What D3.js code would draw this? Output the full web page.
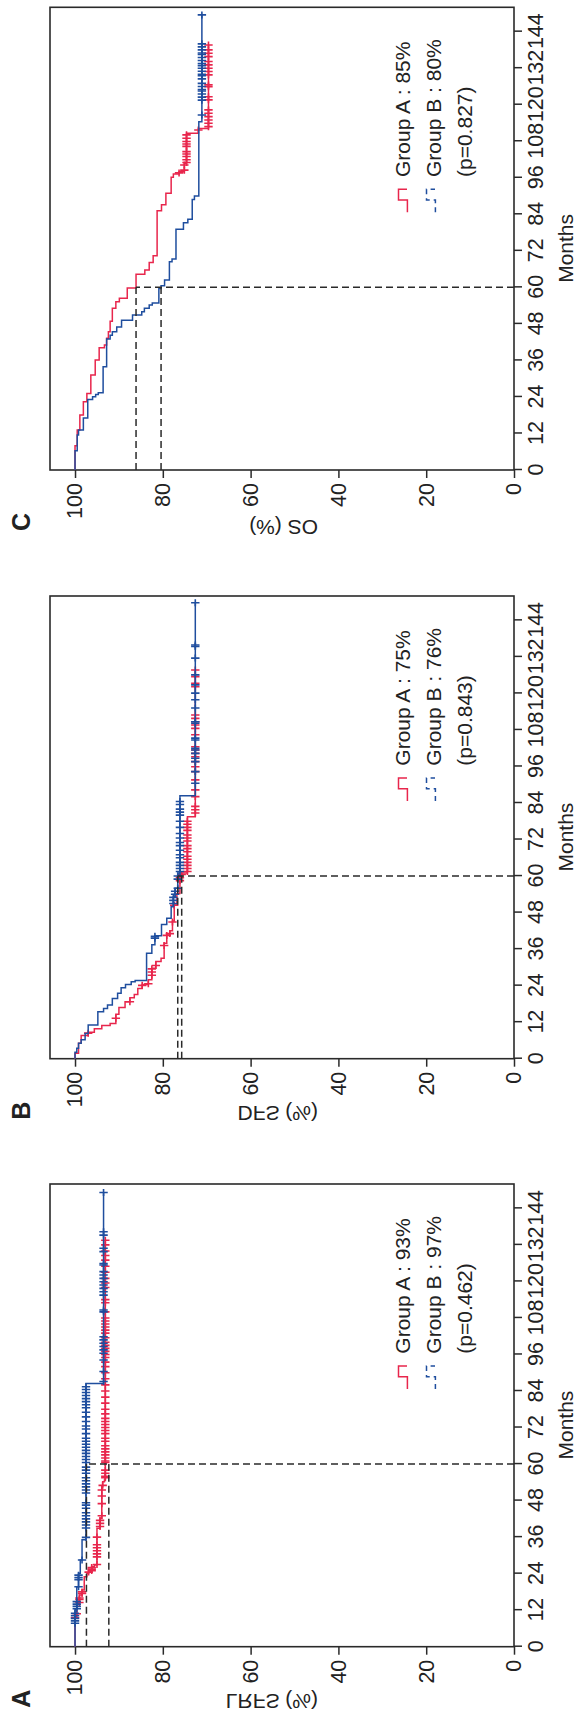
<!DOCTYPE html>
<html>
<head>
<meta charset="utf-8">
<script src="https://cdn.jsdelivr.net/npm/d3@7"></script>
<style>
  body { margin: 0; background: #fff; }
  svg text { font-family: "Liberation Sans", Arial, sans-serif; fill: #222; }
</style>
</head>
<body>
<div class="chart"></div>
<script>
// ---- data ----
var monthTicks = [0, 12, 24, 36, 48, 60, 72, 84, 96, 108, 120, 132, 144];
var survTicks = [0, 20, 40, 60, 80, 100];
var panelLetters = ['C', 'B', 'A'];
var yTitles = ['OS (%)', 'DFS (%)', 'LRFS (%)'];
var legendA = ['Group A : 85%', 'Group A : 75%', 'Group A : 93%'];
var legendB = ['Group B : 80%', 'Group B : 76%', 'Group B : 97%'];
var pValues = ['(p=0.827)', '(p=0.843)', '(p=0.462)'];

// [month, survival after the drop]
var osRedSteps = [[8.0,99.5],[13.1,98.9],[18.1,98.1],[22.4,97.3],[25.1,96.4],[31.2,95.4],[36.1,94.5],[40.2,93.3],[41.1,92.8],[43.3,92.4],[45.4,92.0],[48.9,91.5],[53.1,90.7],[55.3,89.9],[56.4,88.1],[59.8,86.1],[64.3,84.1],[65.7,83.1],[68.2,82.2],[70.4,81.3],[85.2,80.3],[87.1,79.3],[90.9,78.1],[96.2,77.6],[97.2,76.3],[98.0,75.1],[100.8,74.6],[110.6,71.9],[112.2,69.6]];
var osBlueSteps = [[6.3,99.5],[11.5,99.2],[13.1,98.1],[17.1,97.1],[23.2,96.0],[24.1,95.3],[24.8,94.7],[25.4,93.6],[33.9,92.8],[43.0,92.0],[44.3,91.5],[45.4,90.5],[47.0,89.4],[49.2,86.9],[50.9,84.8],[52.0,84.2],[53.1,83.1],[54.2,82.4],[54.9,80.9],[59.6,80.4],[60.5,79.6],[62.4,78.5],[68.4,77.9],[69.3,77.0],[79.1,75.3],[81.2,74.3],[82.4,73.3],[88.9,72.8],[90.0,71.8],[114.4,71.1]];
var osRedCensor = [97.6,98.5,100.2,101.0,101.9,103.0,103.8,104.6,106.3,107.1,107.9,109.0,110.1,111.7,112.8,113.9,115.0,116.1,117.2,118.3,121.6,122.6,125.9,126.5,129.8,130.9,132.0,133.1,134.2,135.8,136.9,138.0,139.6];
var osBlueCensor = [116.6,121.5,122.5,123.5,124.5,125.0,126.0,127.0,128.5,129.5,130.0,131.0,132.0,132.8,133.5,134.5,135.5,136.5,137.0,138.0,139.0,140.0,149.5];

var dfsRedSteps = [[1.8,99.2],[5.1,98.6],[7.6,97.0],[8.7,95.6],[9.8,93.9],[10.9,92.0],[11.6,90.7],[14.6,90.0],[16.8,88.6],[18.7,87.5],[20.0,86.5],[21.1,85.7],[23.1,84.7],[24.4,83.3],[25.9,82.5],[29.7,81.6],[31.9,80.4],[33.0,79.7],[37.9,79.1],[40.6,78.4],[42.0,77.8],[45.2,77.4],[50.5,76.8],[54.3,76.1],[59.8,75.7],[61.0,74.4],[79.5,72.6]];
var dfsBlueSteps = [[2.1,99.6],[3.4,99.2],[5.1,98.6],[6.2,97.7],[8.3,97.0],[11.1,94.8],[15.4,93.5],[16.5,92.6],[17.6,91.5],[19.8,90.3],[21.5,89.5],[23.3,88.5],[24.4,87.2],[25.3,86.3],[25.7,83.7],[34.6,82.5],[37.4,81.8],[40.4,80.3],[44.1,79.1],[46.1,78.1],[49.9,77.6],[53.2,77.2],[56.0,76.6],[61.0,76.1],[86.4,72.6]];
var dfsRedCensor = [8.4,13.3,18.7,24.1,24.6,27.4,28.5,29.5,30.6,37.2,40.5,41.1,44.9,50.4,58.5,59.5,60.5,61.5,62.5,63.5,64.5,65.5,66.5,68.0,69.0,70.0,71.5,72.5,73.5,75.0,76.0,77.0,78.0,80.7,81.8,82.9,86.1,88.3,91.6,94.3,95.9,97.6,99.2,100.3,101.4,102.5,106.4,108.5,109.6,110.7,111.8,112.9,122.2,123.3,125.5,127.7];
var dfsBlueCensor = [39.6,40.2,51.0,52.0,53.0,54.0,55.0,56.0,59.0,60.0,61.5,62.5,63.5,64.5,66.0,67.0,68.5,70.0,71.0,72.5,74.0,76.0,78.0,80.0,81.0,82.0,83.5,84.5,90.5,94.3,97.6,98.7,100.3,101.4,102.0,104.7,105.3,110.2,110.7,115.2,117.9,120.1,122.8,126.1,131.6,135.4,135.9,149.8];

var lrfsRedSteps = [[10.4,99.6],[14.2,99.0],[17.0,98.4],[18.6,97.9],[23.0,97.3],[24.1,96.9],[24.6,96.2],[26.3,95.6],[26.8,95.0],[38.9,94.3],[42.2,93.9],[52.6,93.7],[54.2,93.3],[54.8,93.1]];
var lrfsBlueSteps = [[12.1,99.6],[19.7,99.2],[24.1,98.8],[28.5,98.4],[35.1,97.5],[86.5,93.5]];
var lrfsRedCensor = [9.5,10.8,14.5,15.5,16.0,17.5,18.0,24.5,25.0,25.5,26.0,27.0,29.5,30.5,31.5,32.5,33.5,36.0,39.5,40.5,41.5,43.0,47.0,49.5,51.5,53.0,55.5,56.0,57.0,58.0,60.5,61.0,62.0,63.0,64.0,65.0,66.0,67.5,68.5,70.0,71.0,72.0,73.0,74.0,75.0,76.5,78.0,80.0,82.0,84.0,86.0,88.0,90.0,92.0,93.5,95.0,96.0,97.0,98.0,99.0,100.0,101.5,103.0,104.0,105.0,106.0,107.0,108.0,110.0,113.0,114.0,118.0,119.5,121.0,123.0,125.0,127.0,128.5,130.0,132.0,133.5];
var lrfsBlueCensor = [7.7,8.5,9.3,10.2,11.0,12.5,13.3,14.0,14.8,19.7,22.0,22.7,23.5,28.5,35.9,39.0,40.0,41.0,42.0,43.0,44.0,45.5,46.5,47.3,50.5,51.5,52.5,53.5,54.5,55.5,57.0,58.0,59.0,60.5,61.5,62.5,63.5,64.5,65.5,66.5,67.5,68.5,70.0,71.5,72.5,74.0,75.5,77.0,78.5,79.5,80.5,81.5,82.5,83.5,84.5,85.4,87.1,90.4,94.2,96.4,97.5,98.6,99.7,100.8,101.8,110.0,110.6,115.5,116.6,117.7,118.8,119.9,121.0,122.1,123.2,125.4,125.9,129.8,130.9,135.2,136.3,149.2];

// survival read at the 60-month guide lines [group A, group B]
var ref60 = [[86.1, 80.4], [75.7, 76.6], [92.3, 97.4]];

var panels = [
  { red: osRedSteps, blue: osBlueSteps, redC: osRedCensor, blueC: osBlueCensor },
  { red: dfsRedSteps, blue: dfsBlueSteps, redC: dfsRedCensor, blueC: dfsBlueCensor },
  { red: lrfsRedSteps, blue: lrfsBlueSteps, redC: lrfsRedCensor, blueC: lrfsBlueCensor }
];

// ---- layout ----
var RED = '#e8264c', BLUE = '#1f4e9e', INK = '#2a2a2a';
var left = 50;                        // screen x of the plot box
var bottoms = [470, 1058.7, 1646.7];  // screen y of month 0 for each panel
var W = 462.7;                        // months run upward
var H = 464;                          // survival runs left -> right

var x = d3.scaleLinear().domain([0, 152]).range([0, W]);
var y = d3.scaleLinear().domain([0, 105.7]).range([H, 0]);

var svg = d3.select('.chart')
  .append('svg')
    .attr('width', 578)
    .attr('height', 1715);

var line = d3.line()
  .x(d => x(d[0]))
  .y(d => y(d[1]))
  .curve(d3.curveStepAfter);

function survAt(steps, t) {
  var s = 100;
  steps.forEach(d => { if (d[0] <= t) s = d[1]; });
  return s;
}

function drawGroup(g, steps, censor, color) {
  var last = d3.max(censor);
  var pts = [[0, 100]].concat(steps);
  pts.push([last, steps[steps.length - 1][1]]);

  g.append('path')
    .attr('d', line(pts))
    .attr('fill', 'none')
    .attr('stroke', color)
    .attr('stroke-width', 1.5);

  g.append('g')
    .selectAll('path')
    .data(censor)
    .enter()
    .append('path')
      .attr('d', t => {
        var cx = x(t), cy = y(survAt(steps, t));
        return 'M' + (cx - 3.5) + ',' + cy + 'h7M' + cx + ',' + (cy - 4.2) + 'v8.4';
      })
      .attr('stroke', color)
      .attr('stroke-width', 1.6);
}

panels.forEach(function(p, i) {
  var by = bottoms[i];
  // plot is drawn upright and then turned a quarter turn counter-clockwise
  var g = svg.append('g')
    .attr('transform', 'translate(' + left + ',' + by + ') rotate(-90)');

  var xAxis = d3.axisBottom(x).tickValues(monthTicks).tickSize(8).tickPadding(6).tickSizeOuter(0);
  var gx = g.append('g').attr('transform', 'translate(0,' + H + ')').call(xAxis);

  var yAxis = d3.axisLeft(y).tickValues(survTicks).tickSize(8).tickPadding(5).tickSizeOuter(0);
  var gy = g.append('g').call(yAxis);

  [gx, gy].forEach(a => {
    a.select('.domain').remove();
    a.selectAll('line').attr('stroke', INK).attr('stroke-width', 1.5);
    a.selectAll('text').style('font-size', '21.5px').attr('fill', '#222');
  });

  g.append('rect')
    .attr('width', W)
    .attr('height', H)
    .attr('fill', 'none')
    .attr('stroke', INK)
    .attr('stroke-width', 1.6);

  drawGroup(g, p.red, p.redC, RED);
  drawGroup(g, p.blue, p.blueC, BLUE);

  // 60-month guide lines
  var r = ref60[i];
  var guides = [
    [[60, 0], [60, d3.max(r)]],
    [[0, r[0]], [60, r[0]]],
    [[0, r[1]], [60, r[1]]]
  ];
  g.selectAll('.guide')
    .data(guides)
    .enter()
    .append('line')
      .attr('class', 'guide')
      .attr('x1', d => x(d[0][0]))
      .attr('y1', d => y(d[0][1]))
      .attr('x2', d => x(d[1][0]))
      .attr('y2', d => y(d[1][1]))
      .attr('stroke', INK)
      .attr('stroke-width', 1.5)
      .attr('stroke-dasharray', '7,4');

  g.append('text')
    .attr('x', x(72.8))
    .attr('y', H + 44)
    .attr('dy', '0.71em')
    .attr('text-anchor', 'middle')
    .style('font-size', '21px')
    .text('Months');

  // legend
  var lx = 293;
  var rows = [legendA[i], legendB[i], pValues[i]];
  rows.forEach((t, k) => {
    g.append('text')
      .attr('x', lx)
      .attr('y', 360 + k * 31)
      .style('font-size', '21px')
      .text(t);
  });
  var key = [[257.7, 357.4], [270, 357.4], [270, 348.5], [280.7, 348.5], [280.7, 357]];
  g.append('path')
    .attr('d', d3.line()(key))
    .attr('fill', 'none')
    .attr('stroke', RED)
    .attr('stroke-width', 1.5);
  g.append('path')
    .attr('d', d3.line()(key.map(d => [d[0], d[1] + 28])))
    .attr('fill', 'none')
    .attr('stroke', BLUE)
    .attr('stroke-width', 1.5)
    .attr('stroke-dasharray', '5,4');

  g.append('text')
    .attr('x', -61)
    .attr('y', -20)
    .style('font-size', '25px')
    .style('font-weight', 'bold')
    .text(panelLetters[i]);

  // y titles: C is turned upside down, B and A are mirrored top-to-bottom
  var title = svg.append('text')
    .attr('dy', '0.35em')
    .style('font-size', '21px')
    .text(yTitles[i]);
  if (i === 0) {
    title.attr('transform', 'translate(318,' + (by + 57) + ') rotate(180)')
      .attr('text-anchor', 'start');
  } else {
    title.attr('transform', 'translate(318,' + (by + 55) + ') scale(1,-1)')
      .attr('text-anchor', 'end');
  }
});
</script>
</body>
</html>
